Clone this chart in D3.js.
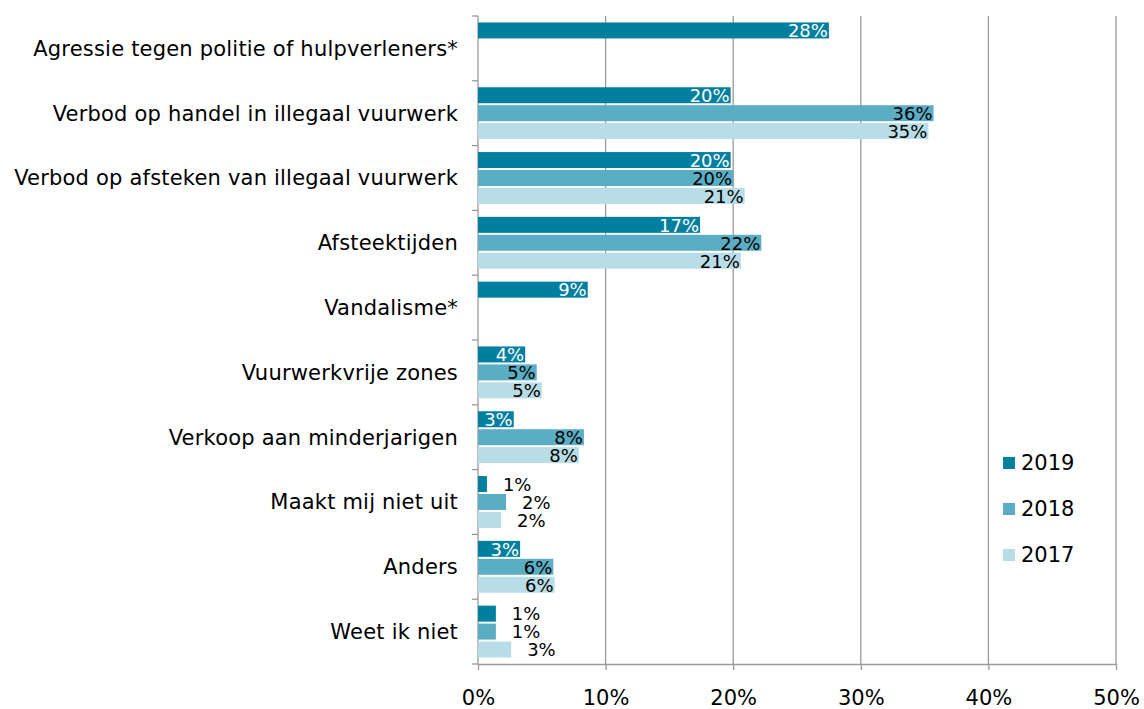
<!DOCTYPE html>
<html>
<head>
<meta charset="utf-8">
<script src="https://cdn.jsdelivr.net/npm/d3@7"></script>
<style>
  body { margin: 0; background: #fff; }
  svg text { font-family: "DejaVu Sans", Verdana, sans-serif; font-size: 21px; }
</style>
</head>
<body>
<svg width="1144" height="709"></svg>
<script>
// data (percentages)
var categories = [
  "Agressie tegen politie of hulpverleners*",
  "Verbod op handel in illegaal vuurwerk",
  "Verbod op afsteken van illegaal vuurwerk",
  "Afsteektijden",
  "Vandalisme*",
  "Vuurwerkvrije zones",
  "Verkoop aan minderjarigen",
  "Maakt mij niet uit",
  "Anders",
  "Weet ik niet"
];
var series = ["2019", "2018", "2017"];
var values2019 = [27.5, 19.8, 19.8, 17.4, 8.6, 3.7, 2.8, 0.7, 3.3, 1.4];
var values2018 = [null, 35.7, 20.0, 22.2, null, 4.6, 8.3, 2.2, 5.9, 1.4];
var values2017 = [null, 35.3, 20.9, 20.6, null, 5.0, 7.9, 1.8, 6.0, 2.6];
var xTicks = [0, 10, 20, 30, 40, 50];

var colors = {"2019": "#007f9f", "2018": "#5badc4", "2017": "#b8dde6"};
var labelColors = {"2019": "#fff", "2018": "#000", "2017": "#000"};

var margins = {top: 16, right: 28, bottom: 45, left: 478};
var width = 1144, height = 709;

var svg = d3.select("svg");

var x = d3.scaleLinear().domain([0, 50]).range([margins.left, 1116]);
var y = d3.scaleBand().domain(categories).range([margins.top, height - margins.bottom]).padding(0);
var ySub = d3.scaleBand().domain(series).range([0, y.bandwidth()])
  .paddingInner(0.11).paddingOuter(0.36);

// gridlines
svg.append("g")
  .selectAll("line")
  .data(xTicks.slice(1))
  .enter()
  .append("line")
  .attr("x1", function(d){ return x(d); })
  .attr("x2", function(d){ return x(d); })
  .attr("y1", margins.top)
  .attr("y2", height - margins.bottom)
  .attr("stroke", "#9a9a9a")
  .attr("stroke-width", 1.3);

// x axis
var xAxis = svg.append("g")
  .attr("transform", "translate(0," + (height - margins.bottom) + ")")
  .call(d3.axisBottom(x).tickValues(xTicks).tickSize(6).tickSizeOuter(0)
    .tickFormat(function(d){ return d + "%"; }));
xAxis.select(".domain").attr("stroke", "#9a9a9a").attr("stroke-width", 1.3);
xAxis.selectAll(".tick line").attr("stroke", "#9a9a9a").attr("stroke-width", 1.3);
xAxis.selectAll(".tick text").attr("y", 41).attr("dy", 0).attr("fill", "#000")
  .style("font-family", "'DejaVu Sans', Verdana, sans-serif").style("font-size", "21px");

// y axis
var yTickPos = categories.map(function(c){ return y(c); }).concat([height - margins.bottom]);
svg.append("line")
  .attr("x1", x(0)).attr("x2", x(0))
  .attr("y1", margins.top).attr("y2", height - margins.bottom)
  .attr("stroke", "#9a9a9a").attr("stroke-width", 1.3);
svg.append("g")
  .selectAll("line")
  .data(yTickPos)
  .enter()
  .append("line")
  .attr("x1", x(0) - 6).attr("x2", x(0))
  .attr("y1", function(d){ return d; })
  .attr("y2", function(d){ return d; })
  .attr("stroke", "#9a9a9a").attr("stroke-width", 1.3);

svg.append("g")
  .selectAll("text")
  .data(categories)
  .enter()
  .append("text")
  .attr("x", x(0) - 20)
  .attr("y", function(d){ return y(d) + y.bandwidth() / 2; })
  .attr("dy", "0.35em")
  .attr("text-anchor", "end")
  .attr("fill", "#000")
  .style("letter-spacing", "0.2px")
  .text(function(d){ return d; });

// bars
var rows = [];
categories.forEach(function(c, i){
  [values2019, values2018, values2017].forEach(function(arr, j){
    if (arr[i] != null) rows.push({cat: c, year: series[j], v: arr[i]});
  });
});

var groups = svg.append("g")
  .selectAll("g")
  .data(rows)
  .enter()
  .append("g");

groups.append("rect")
  .attr("x", x(0))
  .attr("y", function(d){ return y(d.cat) + ySub(d.year); })
  .attr("width", function(d){ return x(d.v) - x(0); })
  .attr("height", ySub.bandwidth())
  .attr("fill", function(d){ return colors[d.year]; });

groups.append("text")
  .attr("y", function(d){ return y(d.cat) + ySub(d.year) + ySub.bandwidth() / 2; })
  .attr("dy", "0.38em")
  .style("font-size", "18px")
  .each(function(d){
    var inside = (x(d.v) - x(0)) > 34;
    d3.select(this)
      .attr("x", inside ? x(d.v) - 1 : x(d.v) + 16)
      .attr("text-anchor", inside ? "end" : "start")
      .attr("fill", inside ? labelColors[d.year] : "#000");
  })
  .text(function(d){ return Math.round(d.v) + "%"; });

// legend
var legend = svg.append("g")
  .selectAll("g")
  .data(series)
  .enter()
  .append("g")
  .attr("transform", function(d, i){ return "translate(1003," + (463 + i * 46) + ")"; });
legend.append("rect")
  .attr("x", 0).attr("y", -6)
  .attr("width", 12).attr("height", 12)
  .attr("fill", function(d){ return colors[d]; });
legend.append("text")
  .attr("x", 18)
  .attr("y", 7)
  .attr("fill", "#000")
  .text(function(d){ return d; });
</script>
</body>
</html>
